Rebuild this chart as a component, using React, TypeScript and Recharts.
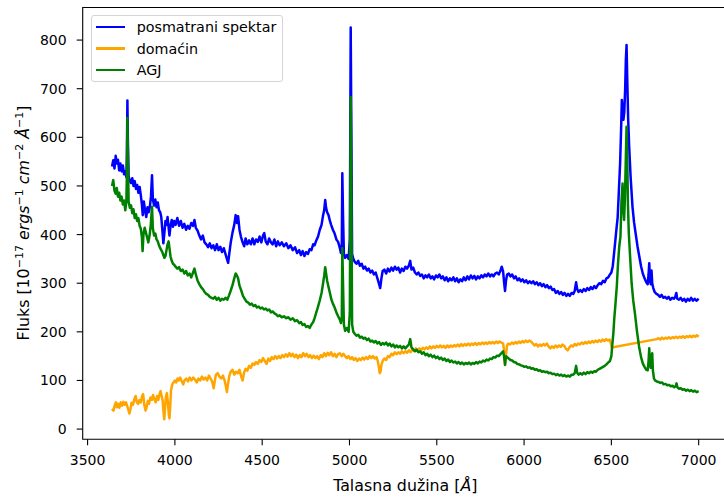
import { LineChart, Line, XAxis, YAxis, Legend, Label, ReferenceArea } from "recharts"

const FONT = "DejaVu Sans"

const wavelengthTicks = [3500, 4000, 4500, 5000, 5500, 6000, 6500, 7000]
const fluxTicks = [0, 100, 200, 300, 400, 500, 600, 700, 800]

// [wavelength (Å), flux (1e-17 erg/s/cm2/Å)]
const observed = [
  [3640, 540], [3647, 553], [3654, 536], [3661, 562], [3667, 546], [3674, 554], [3681, 532], [3688, 546],
  [3695, 530], [3702, 542], [3709, 524], [3716, 530], [3722, 518], [3725, 560], [3728, 676], [3731, 590],
  [3735, 520], [3742, 510], [3749, 506], [3756, 516], [3763, 500], [3770, 510], [3777, 494], [3784, 502],
  [3791, 486], [3798, 498], [3805, 480], [3811, 462], [3816, 440], [3822, 468], [3829, 450], [3836, 436],
  [3843, 456], [3850, 446], [3857, 458], [3863, 478], [3869, 522], [3874, 472], [3881, 460], [3888, 472],
  [3895, 456], [3902, 466], [3909, 450], [3916, 446], [3922, 436], [3928, 410], [3934, 382], [3940, 404],
  [3946, 428], [3952, 420], [3958, 436], [3964, 415], [3969, 398], [3975, 418], [3982, 430], [3989, 416],
  [3996, 428], [4004, 420], [4014, 434], [4024, 418], [4034, 428], [4044, 414], [4054, 422], [4064, 410],
  [4074, 418], [4084, 412], [4094, 424], [4104, 418], [4112, 430], [4120, 414], [4130, 408], [4140, 398],
  [4150, 390], [4160, 398], [4170, 384], [4180, 380], [4190, 374], [4200, 382], [4210, 372], [4220, 378],
  [4230, 368], [4240, 380], [4250, 368], [4260, 375], [4270, 364], [4280, 372], [4290, 360], [4298, 350],
  [4305, 342], [4312, 362], [4320, 384], [4330, 404], [4340, 420], [4348, 440], [4355, 424], [4362, 438],
  [4370, 410], [4378, 396], [4388, 384], [4397, 376], [4405, 392], [4415, 380], [4425, 388], [4435, 380],
  [4445, 392], [4455, 380], [4465, 390], [4475, 385], [4485, 396], [4495, 384], [4505, 398], [4512, 403],
  [4520, 386], [4530, 380], [4540, 392], [4550, 384], [4560, 380], [4570, 390], [4580, 376], [4590, 386],
  [4600, 378], [4612, 384], [4625, 376], [4638, 382], [4650, 372], [4662, 378], [4675, 368], [4688, 374],
  [4700, 362], [4712, 368], [4722, 358], [4732, 366], [4742, 356], [4752, 364], [4762, 360], [4772, 370],
  [4782, 368], [4792, 380], [4800, 378], [4810, 388], [4820, 396], [4830, 410], [4840, 420], [4848, 438],
  [4855, 450], [4861, 471], [4866, 455], [4872, 446], [4880, 440], [4888, 428], [4895, 420], [4905, 410],
  [4915, 402], [4925, 390], [4935, 385], [4945, 372], [4951, 362], [4956, 380], [4959, 526], [4963, 440],
  [4968, 360], [4975, 352], [4985, 358], [4995, 350], [5002, 390], [5007, 826], [5011, 600], [5015, 360],
  [5022, 350], [5030, 344], [5040, 340], [5050, 346], [5060, 336], [5070, 340], [5080, 330], [5090, 334],
  [5100, 326], [5110, 330], [5120, 322], [5130, 326], [5140, 318], [5150, 322], [5160, 310], [5168, 300],
  [5176, 290], [5183, 310], [5190, 325], [5200, 328], [5210, 320], [5220, 330], [5230, 324], [5240, 332],
  [5250, 326], [5260, 334], [5270, 328], [5280, 332], [5290, 322], [5300, 330], [5310, 325], [5320, 334],
  [5330, 330], [5340, 336], [5348, 346], [5355, 328], [5365, 332], [5375, 322], [5385, 318], [5395, 322],
  [5405, 315], [5415, 318], [5425, 310], [5435, 316], [5445, 312], [5455, 318], [5465, 310], [5475, 314],
  [5485, 308], [5495, 316], [5505, 312], [5515, 318], [5525, 310], [5535, 314], [5545, 306], [5555, 312],
  [5565, 304], [5575, 310], [5585, 306], [5595, 312], [5605, 304], [5615, 310], [5625, 302], [5635, 308],
  [5645, 304], [5655, 312], [5665, 306], [5675, 314], [5685, 308], [5695, 316], [5705, 310], [5715, 315],
  [5725, 308], [5735, 314], [5745, 310], [5755, 316], [5765, 312], [5775, 318], [5785, 314], [5795, 320],
  [5805, 314], [5815, 318], [5825, 314], [5835, 320], [5845, 322], [5855, 318], [5865, 326], [5872, 334],
  [5880, 324], [5886, 300], [5891, 284], [5896, 304], [5903, 318], [5912, 320], [5922, 314], [5932, 318],
  [5942, 310], [5952, 314], [5962, 306], [5972, 310], [5982, 304], [5992, 308], [6002, 302], [6012, 306],
  [6022, 300], [6032, 304], [6042, 300], [6052, 304], [6062, 298], [6072, 302], [6082, 296], [6092, 300],
  [6102, 294], [6112, 298], [6122, 292], [6132, 296], [6142, 290], [6152, 293], [6162, 286], [6172, 288],
  [6182, 280], [6192, 284], [6202, 278], [6212, 282], [6222, 276], [6232, 280], [6242, 274], [6252, 278],
  [6262, 274], [6272, 280], [6282, 278], [6290, 284], [6298, 302], [6304, 288], [6312, 282], [6322, 286],
  [6332, 282], [6342, 288], [6352, 284], [6362, 290], [6372, 286], [6382, 292], [6392, 288], [6402, 294],
  [6412, 290], [6422, 296], [6432, 300], [6442, 298], [6452, 305], [6462, 302], [6472, 310], [6482, 312],
  [6492, 318], [6500, 322], [6508, 335], [6515, 360], [6522, 385], [6530, 415], [6536, 435], [6543, 490],
  [6550, 546], [6556, 620], [6560, 677], [6565, 655], [6569, 636], [6574, 652], [6579, 700], [6583, 760],
  [6587, 790], [6591, 720], [6596, 640], [6602, 581], [6610, 520], [6621, 457], [6630, 425], [6640, 400],
  [6650, 375], [6660, 355], [6670, 335], [6680, 320], [6690, 310], [6700, 302], [6708, 298], [6713, 318],
  [6717, 341], [6721, 305], [6726, 298], [6730, 326], [6734, 300], [6740, 290], [6748, 282], [6758, 278],
  [6768, 276], [6778, 272], [6788, 276], [6798, 270], [6808, 272], [6818, 268], [6828, 272], [6838, 266],
  [6848, 270], [6858, 268], [6866, 272], [6872, 280], [6877, 268], [6887, 266], [6897, 270], [6907, 264],
  [6917, 268], [6927, 262], [6937, 268], [6947, 264], [6957, 270], [6967, 264], [6977, 268], [6987, 264],
  [7000, 268],
]

const host = [
  [3640, 42], [3648, 38], [3655, 48], [3662, 55], [3668, 45], [3675, 52], [3682, 44], [3690, 55],
  [3698, 48], [3705, 56], [3712, 50], [3720, 55], [3728, 46], [3735, 38], [3740, 32], [3746, 42],
  [3752, 54], [3760, 50], [3768, 62], [3775, 68], [3782, 55], [3790, 52], [3797, 60], [3805, 55],
  [3812, 68], [3818, 72], [3825, 50], [3832, 38], [3838, 45], [3845, 58], [3852, 52], [3860, 65],
  [3868, 60], [3875, 70], [3882, 62], [3890, 55], [3898, 68], [3905, 60], [3912, 72], [3918, 78],
  [3924, 68], [3930, 58], [3935, 35], [3939, 20], [3943, 40], [3948, 65], [3954, 74], [3960, 55],
  [3965, 30], [3969, 22], [3973, 45], [3978, 80], [3985, 92], [3992, 96], [4000, 100], [4008, 96],
  [4015, 104], [4022, 100], [4030, 106], [4040, 98], [4048, 92], [4055, 100], [4065, 104], [4075, 98],
  [4085, 106], [4095, 100], [4105, 106], [4115, 102], [4125, 96], [4135, 104], [4145, 100], [4155, 108],
  [4165, 102], [4175, 106], [4185, 100], [4195, 110], [4205, 104], [4215, 96], [4222, 84], [4228, 98],
  [4235, 112], [4245, 115], [4255, 108], [4265, 104], [4275, 110], [4285, 100], [4292, 88], [4298, 76],
  [4304, 92], [4312, 110], [4320, 118], [4330, 122], [4340, 112], [4350, 118], [4360, 115], [4370, 122],
  [4380, 108], [4388, 100], [4396, 116], [4405, 124], [4415, 120], [4425, 130], [4435, 126], [4445, 135],
  [4455, 132], [4465, 138], [4475, 134], [4485, 142], [4495, 138], [4505, 146], [4515, 140], [4525, 134],
  [4535, 145], [4545, 140], [4555, 148], [4565, 144], [4575, 150], [4585, 145], [4595, 150], [4605, 146],
  [4615, 152], [4625, 148], [4635, 154], [4645, 149], [4655, 156], [4665, 150], [4675, 155], [4685, 148],
  [4695, 153], [4705, 146], [4715, 152], [4725, 148], [4735, 156], [4745, 150], [4755, 155], [4765, 148],
  [4775, 152], [4785, 146], [4795, 151], [4805, 146], [4815, 150], [4825, 144], [4835, 152], [4845, 148],
  [4855, 156], [4865, 150], [4875, 157], [4885, 152], [4895, 158], [4905, 150], [4915, 155], [4925, 148],
  [4935, 154], [4945, 156], [4955, 150], [4965, 155], [4975, 150], [4985, 146], [4995, 150], [5005, 144],
  [5015, 148], [5025, 142], [5035, 146], [5045, 140], [5055, 145], [5065, 142], [5075, 147], [5085, 143],
  [5095, 148], [5105, 144], [5115, 150], [5125, 146], [5135, 150], [5145, 145], [5155, 148], [5162, 140],
  [5168, 128], [5173, 115], [5178, 118], [5183, 132], [5190, 140], [5200, 145], [5210, 142], [5220, 150],
  [5230, 148], [5240, 155], [5250, 152], [5260, 158], [5270, 154], [5280, 158], [5290, 155], [5300, 160],
  [5310, 156], [5320, 160], [5330, 157], [5340, 162], [5350, 158], [5360, 164], [5370, 160], [5380, 166],
  [5390, 163], [5400, 166], [5410, 162], [5420, 167], [5430, 164], [5440, 168], [5450, 165], [5460, 170],
  [5470, 166], [5480, 170], [5490, 167], [5500, 171], [5510, 168], [5520, 172], [5530, 168], [5540, 171],
  [5550, 167], [5560, 172], [5570, 168], [5580, 172], [5590, 169], [5600, 173], [5610, 170], [5620, 174],
  [5630, 170], [5640, 175], [5650, 171], [5660, 175], [5670, 172], [5680, 176], [5690, 172], [5700, 176],
  [5710, 173], [5720, 177], [5730, 173], [5740, 177], [5750, 174], [5760, 178], [5770, 175], [5780, 178],
  [5790, 175], [5800, 179], [5810, 176], [5820, 179], [5830, 176], [5840, 180], [5850, 177], [5860, 180],
  [5870, 178], [5880, 176], [5886, 160], [5891, 132], [5896, 150], [5902, 172], [5910, 176], [5920, 174],
  [5930, 178], [5940, 175], [5950, 179], [5960, 176], [5970, 180], [5980, 177], [5990, 181], [6000, 178],
  [6010, 182], [6020, 179], [6030, 182], [6040, 180], [6050, 176], [6060, 172], [6070, 175], [6080, 170],
  [6090, 174], [6100, 171], [6110, 175], [6120, 172], [6130, 176], [6140, 170], [6150, 166], [6160, 170],
  [6170, 167], [6180, 172], [6190, 168], [6200, 172], [6210, 169], [6220, 174], [6230, 171], [6240, 165],
  [6250, 162], [6260, 168], [6270, 172], [6280, 170], [6290, 175], [6300, 172], [6310, 176], [6320, 174],
  [6330, 178], [6340, 175], [6350, 179], [6360, 176], [6370, 180], [6380, 177], [6390, 181], [6400, 178],
  [6410, 182], [6420, 179], [6430, 183], [6440, 180], [6450, 184], [6460, 181], [6470, 185], [6480, 182],
  [6490, 184], [6496, 178], [6502, 168], [6760, 185], [6770, 187], [6780, 184], [6790, 188], [6800, 185],
  [6810, 188], [6820, 186], [6830, 189], [6840, 186], [6850, 189], [6860, 187], [6870, 190], [6880, 187],
  [6890, 190], [6900, 188], [6910, 191], [6920, 188], [6930, 191], [6940, 189], [6950, 192], [6960, 189],
  [6970, 192], [6980, 190], [6990, 193], [7000, 190],
]

const agn = [
  [3640, 500], [3647, 512], [3654, 490], [3661, 484], [3667, 496], [3674, 478], [3681, 486], [3688, 470],
  [3695, 478], [3702, 462], [3709, 470], [3716, 450], [3722, 468], [3725, 520], [3728, 640], [3731, 560],
  [3735, 468], [3742, 455], [3749, 460], [3756, 444], [3763, 452], [3770, 434], [3777, 442], [3784, 428],
  [3791, 434], [3798, 418], [3805, 412], [3811, 395], [3815, 366], [3820, 400], [3827, 414], [3834, 404],
  [3841, 394], [3848, 384], [3855, 398], [3862, 420], [3869, 457], [3874, 412], [3881, 398], [3888, 402],
  [3895, 390], [3902, 386], [3909, 378], [3916, 372], [3922, 368], [3928, 364], [3934, 358], [3940, 352],
  [3946, 356], [3952, 368], [3958, 380], [3964, 386], [3969, 372], [3975, 355], [3982, 346], [3989, 340],
  [3996, 338], [4004, 334], [4014, 330], [4024, 333], [4034, 325], [4044, 328], [4054, 320], [4064, 325],
  [4074, 316], [4084, 320], [4094, 312], [4104, 322], [4112, 330], [4120, 318], [4130, 305], [4140, 298],
  [4150, 292], [4160, 288], [4170, 282], [4180, 278], [4190, 276], [4200, 272], [4210, 270], [4220, 268],
  [4230, 272], [4240, 266], [4250, 270], [4260, 264], [4270, 268], [4280, 266], [4290, 270], [4300, 266],
  [4310, 275], [4320, 285], [4330, 296], [4340, 310], [4348, 320], [4355, 316], [4362, 310], [4370, 295],
  [4380, 285], [4390, 274], [4400, 268], [4410, 262], [4420, 260], [4430, 256], [4440, 258], [4450, 253],
  [4460, 255], [4470, 250], [4480, 252], [4490, 248], [4500, 250], [4510, 246], [4520, 248], [4530, 244],
  [4540, 246], [4550, 240], [4560, 242], [4570, 238], [4580, 236], [4590, 232], [4600, 234], [4612, 230],
  [4625, 232], [4638, 228], [4650, 230], [4662, 225], [4675, 228], [4688, 222], [4700, 224], [4712, 218],
  [4722, 220], [4732, 214], [4742, 216], [4752, 210], [4762, 212], [4772, 208], [4782, 215], [4792, 220],
  [4800, 228], [4810, 240], [4820, 252], [4830, 265], [4840, 280], [4848, 298], [4855, 315], [4861, 333],
  [4866, 320], [4872, 305], [4880, 292], [4888, 280], [4895, 268], [4905, 258], [4915, 250], [4925, 240],
  [4935, 232], [4945, 225], [4951, 218], [4956, 230], [4959, 372], [4963, 300], [4968, 215], [4975, 202],
  [4985, 208], [4995, 200], [5002, 240], [5007, 683], [5011, 480], [5015, 215], [5022, 200], [5030, 196],
  [5040, 192], [5050, 194], [5060, 188], [5070, 190], [5080, 186], [5090, 188], [5100, 183], [5110, 186],
  [5120, 180], [5130, 182], [5140, 178], [5150, 181], [5160, 176], [5170, 179], [5180, 173], [5190, 177],
  [5200, 174], [5210, 178], [5220, 172], [5230, 176], [5240, 170], [5250, 174], [5260, 168], [5270, 172],
  [5280, 168], [5290, 171], [5300, 166], [5310, 170], [5320, 166], [5330, 170], [5340, 174], [5348, 185],
  [5355, 168], [5365, 164], [5375, 160], [5385, 163], [5395, 158], [5405, 160], [5415, 155], [5425, 158],
  [5435, 152], [5445, 155], [5455, 150], [5465, 153], [5475, 148], [5485, 151], [5495, 146], [5505, 149],
  [5515, 144], [5525, 147], [5535, 142], [5545, 145], [5555, 140], [5565, 143], [5575, 138], [5585, 141],
  [5595, 137], [5605, 139], [5615, 135], [5625, 138], [5635, 134], [5645, 137], [5655, 133], [5665, 136],
  [5675, 134], [5685, 137], [5695, 133], [5705, 136], [5715, 134], [5725, 138], [5735, 135], [5745, 139],
  [5755, 137], [5765, 141], [5775, 139], [5785, 143], [5795, 141], [5805, 145], [5815, 144], [5825, 148],
  [5835, 147], [5845, 151], [5855, 150], [5865, 154], [5872, 157], [5880, 160], [5886, 148], [5891, 132],
  [5896, 150], [5903, 148], [5912, 145], [5922, 142], [5932, 141], [5942, 138], [5952, 137], [5962, 134],
  [5972, 133], [5982, 131], [5992, 130], [6002, 128], [6012, 129], [6022, 126], [6032, 127], [6042, 124],
  [6052, 125], [6062, 122], [6072, 123], [6082, 120], [6092, 121], [6102, 118], [6112, 119], [6122, 117],
  [6132, 118], [6142, 115], [6152, 116], [6162, 113], [6172, 114], [6182, 111], [6192, 113], [6202, 110],
  [6212, 112], [6222, 109], [6232, 111], [6242, 108], [6252, 110], [6262, 108], [6272, 112], [6282, 112],
  [6290, 115], [6298, 130], [6304, 116], [6312, 112], [6322, 115], [6332, 112], [6342, 116], [6352, 113],
  [6362, 117], [6372, 115], [6382, 118], [6392, 116], [6402, 119], [6412, 118], [6422, 122], [6432, 124],
  [6442, 126], [6452, 128], [6462, 130], [6472, 133], [6482, 137], [6492, 140], [6500, 150], [6506, 176],
  [6512, 200], [6516, 224], [6524, 260], [6531, 293], [6538, 340], [6545, 375], [6552, 396], [6558, 470],
  [6564, 505], [6569, 450], [6573, 430], [6578, 480], [6583, 560], [6587, 622], [6591, 560], [6595, 460],
  [6600, 402], [6608, 350], [6616, 300], [6625, 265], [6635, 238], [6647, 200], [6659, 169], [6670, 148],
  [6680, 135], [6690, 128], [6700, 122], [6708, 121], [6713, 140], [6717, 166], [6721, 132], [6726, 126],
  [6730, 150], [6734, 156], [6738, 120], [6744, 104], [6750, 100], [6760, 98], [6770, 97], [6780, 95],
  [6790, 96], [6800, 92], [6810, 93], [6820, 90], [6830, 91], [6840, 88], [6850, 89], [6860, 86],
  [6868, 88], [6873, 94], [6878, 86], [6888, 83], [6898, 84], [6908, 81], [6918, 82], [6928, 79],
  [6938, 81], [6948, 78], [6958, 80], [6968, 77], [6978, 79], [6988, 76], [7000, 78],
]

const series = [
  { name: "posmatrani spektar", color: "#0000ff", points: observed },
  { name: "domaćin", color: "#ffa500", points: host },
  { name: "AGJ", color: "#008000", points: agn },
]

const toRows = (pairs: number[][]) => pairs.map(([wl, flux]) => ({ wl, flux }))

const tickStyle = { fill: "#000", fontSize: 14, fontFamily: FONT }

function SpectrumLegend() {
  return (
    <div
      style={{
        boxSizing: "border-box",
        width: "100%",
        height: "100%",
        border: "1px solid #d4d4d4",
        borderRadius: 3,
        background: "rgba(255,255,255,0.8)",
        fontFamily: FONT,
        fontSize: 14.3,
        color: "#000",
      }}
    >
      {series.map((s) => (
        <div key={s.name} style={{ display: "flex", alignItems: "center", height: 21.7, whiteSpace: "nowrap" }}>
          <span style={{ display: "inline-block", width: 29, height: 2.5, background: s.color, marginLeft: 4.3, marginRight: 11.7 }} />
          <span>{s.name}</span>
        </div>
      ))}
    </div>
  )
}

function FluxLabel() {
  const sup = { fontSize: "70%" }
  return (
    <text x={28.5} y={223} transform="rotate(-90 28.5 223)" textAnchor="middle" fontFamily={FONT} fontSize={15.8} fill="#000">
      <tspan>Fluks [10</tspan>
      <tspan dy={-6} style={sup}>−17</tspan>
      <tspan dy={6}> </tspan>
      <tspan fontStyle="italic">ergs</tspan>
      <tspan dy={-6} style={sup}>−1</tspan>
      <tspan dy={6}> </tspan>
      <tspan fontStyle="italic">cm</tspan>
      <tspan dy={-6} style={sup}>−2</tspan>
      <tspan dy={6}> </tspan>
      <tspan fontStyle="italic">Å</tspan>
      <tspan dy={-6} style={sup}>−1</tspan>
      <tspan dy={6}>]</tspan>
    </text>
  )
}

function WavelengthLabel() {
  return (
    <text x={405.3} y={491} textAnchor="middle" fontFamily={FONT} fontSize={15.8} fill="#000">
      <tspan>Talasna dužina [</tspan>
      <tspan fontStyle="italic">Å</tspan>
      <tspan>]</tspan>
    </text>
  )
}

export default function App() {
  return (
    <div style={{ position: "fixed", left: 0, top: 0, width: 724, height: 501, overflow: "hidden", background: "#fff" }}>
      <LineChart width={740} height={501} margin={{ top: 7.5, right: 12, left: 0, bottom: 0 }}>
        <XAxis
          type="number"
          dataKey="wl"
          domain={[3472, 7168]}
          allowDataOverflow
          ticks={wavelengthTicks}
          height={61.7}
          tick={tickStyle}
          tickSize={6}
          tickMargin={10}
          axisLine={false}
          tickLine={{ stroke: "#000", strokeWidth: 1.1 }}
        >
          <Label content={() => <WavelengthLabel />} />
        </XAxis>
        <YAxis
          type="number"
          domain={[-21, 867]}
          allowDataOverflow
          ticks={fluxTicks}
          width={82.7}
          tick={tickStyle}
          tickSize={6}
          tickMargin={10}
          axisLine={false}
          tickLine={{ stroke: "#000", strokeWidth: 1.1 }}
        >
          <Label content={() => <FluxLabel />} />
        </YAxis>
        {series.map((s) => (
          <Line
            key={s.name}
            data={toRows(s.points)}
            dataKey="flux"
            name={s.name}
            type="linear"
            stroke={s.color}
            strokeWidth={2.5}
            strokeLinejoin="round"
            dot={false}
            activeDot={false}
            isAnimationActive={false}
          />
        ))}
        <ReferenceArea x1={3472} x2={7168} y1={-21} y2={867} fill="none" stroke="#000" strokeWidth={1.1} />
        <Legend
          layout="horizontal"
          verticalAlign="middle"
          align="center"
          content={() => <SpectrumLegend />}
          wrapperStyle={{ left: 90.7, top: 15, width: 192.6, height: 66.7 }}
        />
      </LineChart>
    </div>
  )
}
